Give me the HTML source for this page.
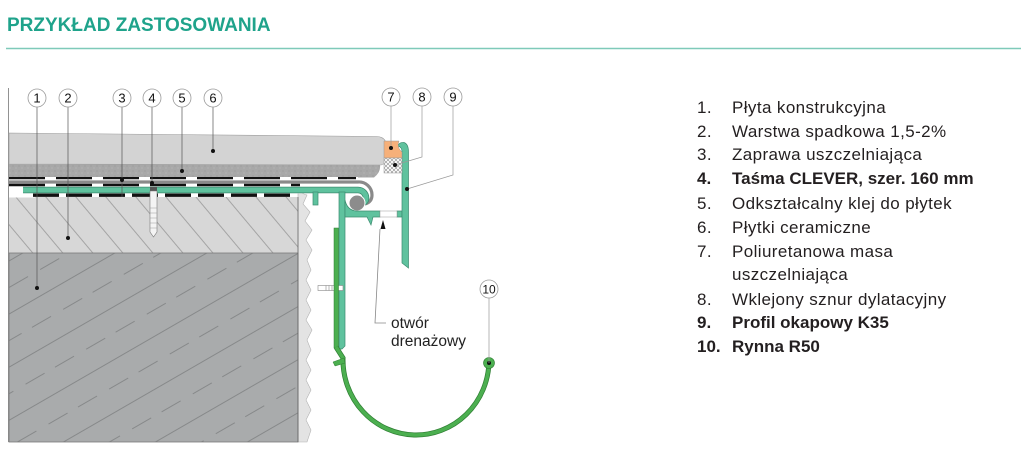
<!DOCTYPE html>
<html><head><meta charset="utf-8">
<style>
html,body{margin:0;padding:0;background:#fff;}
body{width:1021px;height:453px;overflow:hidden;position:relative;}
svg{position:absolute;left:0;top:0;}
</style></head><body>
<svg width="1021" height="453" viewBox="0 0 1021 453" xmlns="http://www.w3.org/2000/svg" font-family="Liberation Sans, Arial, sans-serif">
<defs>
  <pattern id="h2" patternUnits="userSpaceOnUse" width="23" height="10" patternTransform="rotate(-40)">
    <line x1="0.5" y1="0" x2="0.5" y2="10" stroke="#8e8e8e" stroke-width="0.7"/>
  </pattern>
  <pattern id="h1" patternUnits="userSpaceOnUse" width="70" height="46" patternTransform="rotate(-30)">
    <rect width="70" height="46" fill="#a9abac"/>
    <line x1="0" y1="0.5" x2="70" y2="0.5" stroke="#7b7d7e" stroke-width="0.8"/>
    <line x1="4" y1="23.5" x2="26" y2="23.5" stroke="#7b7d7e" stroke-width="0.8"/>
    <line x1="40" y1="23.5" x2="62" y2="23.5" stroke="#7b7d7e" stroke-width="0.8"/>
  </pattern>
  <pattern id="xh" patternUnits="userSpaceOnUse" width="4" height="4">
    <rect width="4" height="4" fill="#fff"/>
    <path d="M0,0 L4,4 M4,0 L0,4" stroke="#8a8a8a" stroke-width="0.6"/>
  </pattern>
  <pattern id="sp" patternUnits="userSpaceOnUse" width="6" height="5">
    <rect width="6" height="5" fill="#a8a8a8"/>
    <circle cx="1" cy="1" r="0.5" fill="#8d8d8d"/>
    <circle cx="4" cy="3" r="0.5" fill="#c2c2c2"/>
  </pattern>
</defs>

<!-- Title -->
<text x="7" y="31" font-size="19" font-weight="bold" fill="#1fa38b">PRZYKŁAD ZASTOSOWANIA</text>
<line x1="6" y1="48.5" x2="1021" y2="48.5" stroke="#7fcab9" stroke-width="1.5"/>

<!-- left border line -->
<line x1="8.5" y1="88" x2="8.5" y2="442" stroke="#777" stroke-width="0.8"/>

<!-- wall wavy strip -->
<path d="M298,192 L307,195 L303,204 L310,212 L305,221 L312,230 L306,240 L312,250 L307,260 L311,270 L306,280 L311,290 L306,300 L311,310 L306,320 L312,330 L307,340 L311,350 L306,360 L311,370 L306,380 L311,390 L306,400 L311,410 L306,420 L311,430 L307,442 L298,442 Z" fill="#e3e3e3" stroke="#b3b3b3" stroke-width="0.6"/>

<!-- substrate 2 (hatched) -->
<rect x="9" y="197" width="289" height="56" fill="#d7d7d7"/>
<rect x="9" y="197" width="289" height="56" fill="url(#h2)"/>
<!-- substrate 1 -->
<rect x="9" y="253" width="289" height="189" fill="url(#h1)" stroke="#7a7a7a" stroke-width="0.8"/>
<line x1="298" y1="197" x2="298" y2="442" stroke="#666" stroke-width="0.8"/>

<!-- tile -->
<path d="M9,133 L377,136.5 Q386,137 386,145 L386,160 Q385,165 380,165 L9,164 Z" fill="#d3d3d3" stroke="#9c9c9c" stroke-width="0.6"/>
<!-- adhesive -->
<path d="M9,164 L380,165 Q381,172 374,177.5 L9,177.5 Z" fill="url(#sp)"/>

<!-- black dashed rows -->
<rect x="9" y="177" width="349" height="10" fill="#fff"/>
<line x1="9" y1="178.5" x2="356" y2="178.5" stroke="#111" stroke-width="3" stroke-dasharray="36 11"/>
<!-- grey membrane with curl -->
<path d="M9,182 H358 A13,13 0 0 1 372,195 Q372,202 365,204" fill="none" stroke="#fff" stroke-width="5.5"/>
<path d="M9,182 H358 A13,13 0 0 1 372,195 Q372,202 365,204" fill="none" stroke="#8a8a8a" stroke-width="3.2"/>
<line x1="9" y1="185" x2="300" y2="185" stroke="#111" stroke-width="2.6" stroke-dasharray="36 11"/>

<!-- white around teal start -->
<rect x="9" y="186.5" width="26" height="11" fill="#fff"/>
<rect x="35" y="186.5" width="320" height="7" fill="#fff"/>
<!-- bottom black dashed row -->
<line x1="33" y1="195.2" x2="297" y2="195.2" stroke="#111" stroke-width="3.4" stroke-dasharray="26 7"/>

<!-- teal top strip with curl -->
<path d="M23,190 H358 A8,8 0 0 1 366,198 Q366,202 362,203" fill="none" stroke="#3c8c70" stroke-width="6.6"/>
<path d="M23,190 H358 A8,8 0 0 1 366,198 Q366,202 362,203" fill="none" stroke="#5fc29e" stroke-width="5"/>

<!-- grey gasket -->
<circle cx="357" cy="203" r="8" fill="#8c8c8c" stroke="#fff" stroke-width="1"/>

<!-- dowel 4 -->
<rect x="150" y="187" width="7" height="4" fill="#555"/>
<path d="M150,191 H157 V232 L153.5,237 L150,232 Z" fill="#f4f4f4" stroke="#7a7a7a" stroke-width="0.6"/>
<path d="M150,208 H157 M150,213 H157 M150,218 H157 M150,223 H157 M150,228 H157" stroke="#999" stroke-width="0.6"/>

<!-- teal profile lower parts -->
<g fill="#5fc29e" stroke="#3c8c70" stroke-width="0.7">
  <rect x="313" y="192" width="5" height="13"/>
  <path d="M339,192 H345 V346 L342,349 H339 Z"/>
  <path d="M345,200 Q347,210 356,211 H380 V217 H373 L371,225 L367,217 H345 Z"/>
  <path d="M397,211 H402 V217 H397 Z"/>
  <path d="M402,263 V152 Q402,147 398,146 Q399,142 404,142.5 Q408.5,144 408.5,152 V268 Z"/>
</g>
<rect x="380" y="211" width="17" height="6" fill="#fff" stroke="#999" stroke-width="0.5"/>

<!-- sealant 7 and cord 8 -->
<path d="M384,141 H399 Q397,146 400,150 L402,152 V158 H384 Z" fill="#f6b07a" stroke="#999" stroke-width="0.5"/>
<rect x="384" y="158" width="18" height="15" fill="url(#xh)" stroke="#999" stroke-width="0.5"/>

<!-- screw -->
<rect x="318" y="285.5" width="25" height="5" fill="#fff" stroke="#888" stroke-width="0.6"/>
<path d="M326,285.5 V290.5 M329,285.5 V290.5 M332,285.5 V290.5 M335,285.5 V290.5 M338,285.5 V290.5" stroke="#888" stroke-width="0.6"/>

<!-- gutter -->
<rect x="334" y="228" width="4.5" height="120" fill="#4caf50" stroke="#2e7d32" stroke-width="0.5"/>
<path d="M336,347 L343,358 A73,75 0 0 0 489,362" fill="none" stroke="#2e7d32" stroke-width="5"/>
<path d="M336,347 L343,358 A73,75 0 0 0 489,362" fill="none" stroke="#4caf50" stroke-width="3.6"/>
<path d="M344,358 L333,362 L335,366 L345,363 Z" fill="#4caf50" stroke="#2e7d32" stroke-width="0.5"/>
<circle cx="489" cy="363" r="5.5" fill="#4caf50" stroke="#2e7d32" stroke-width="0.6"/>
<circle cx="489" cy="363" r="2" fill="#111"/>

<!-- drain label leader -->
<path d="M380,229 L375,323 H386" fill="none" stroke="#888" stroke-width="0.8"/>
<path d="M383,220 L385.5,229 L380.5,229 Z" fill="#111"/>
<text x="391" y="328" font-size="15.5" fill="#222">otwór</text>
<text x="391" y="346" font-size="15.5" fill="#222">drenażowy</text>

<!-- leader lines -->
<g stroke="#555" stroke-width="0.7" fill="none">
  <line x1="37" y1="107" x2="37" y2="288"/>
  <line x1="68" y1="107" x2="68" y2="238"/>
  <line x1="122" y1="107" x2="122" y2="197"/>
  <line x1="152" y1="107" x2="152" y2="183"/>
  <line x1="182" y1="107" x2="182" y2="171"/>
  <line x1="213" y1="107" x2="213" y2="151"/>
</g>
<g stroke="#999" stroke-width="0.7" fill="none">
  <line x1="391" y1="106" x2="391" y2="148"/>
  <path d="M422,106 V157 L395,165"/>
  <path d="M453,106 V175 L407,189"/>
  <line x1="489" y1="298" x2="489" y2="363"/>
</g>
<g fill="#111">
  <circle cx="37" cy="288" r="2"/>
  <circle cx="68" cy="238" r="2"/>
  <circle cx="122" cy="180" r="2"/>
  <circle cx="152" cy="183" r="2"/>
  <circle cx="182" cy="171" r="2"/>
  <circle cx="213" cy="151" r="2"/>
  <circle cx="391" cy="148" r="2"/>
  <circle cx="395" cy="165" r="2"/>
  <circle cx="407" cy="189" r="2"/>
</g>

<!-- numbered circles -->
<g fill="#fff" stroke="#9a9a9a" stroke-width="0.8">
  <circle cx="37" cy="98" r="9"/>
  <circle cx="68" cy="98" r="9"/>
  <circle cx="122" cy="98" r="9"/>
  <circle cx="152" cy="98" r="9"/>
  <circle cx="182" cy="98" r="9"/>
  <circle cx="213" cy="98" r="9"/>
  <circle cx="391" cy="97" r="9"/>
  <circle cx="422" cy="97" r="9"/>
  <circle cx="453" cy="97" r="9"/>
  <circle cx="489" cy="289" r="9"/>
</g>
<g font-size="13" fill="#111" text-anchor="middle">
  <text x="37" y="102.5">1</text>
  <text x="68" y="102.5">2</text>
  <text x="122" y="102.5">3</text>
  <text x="152" y="102.5">4</text>
  <text x="182" y="102.5">5</text>
  <text x="213" y="102.5">6</text>
  <text x="391" y="101.5">7</text>
  <text x="422" y="101.5">8</text>
  <text x="453" y="101.5">9</text>
  <text x="489" y="293.5" font-size="12">10</text>
</g>

<!-- legend list -->
<g font-size="17" fill="#231f20" letter-spacing="0.4">
  <text x="697" y="113">1.</text><text x="732" y="113">Płyta konstrukcyjna</text>
  <text x="697" y="137">2.</text><text x="732" y="137">Warstwa spadkowa 1,5-2%</text>
  <text x="697" y="160">3.</text><text x="732" y="160">Zaprawa uszczelniająca</text>
  <text x="697" y="184" font-weight="bold" letter-spacing="0">4.</text><text x="732" y="184" font-weight="bold" letter-spacing="0">Taśma CLEVER, szer. 160 mm</text>
  <text x="697" y="209">5.</text><text x="732" y="209">Odkształcalny klej do płytek</text>
  <text x="697" y="233">6.</text><text x="732" y="233">Płytki ceramiczne</text>
  <text x="697" y="257">7.</text><text x="732" y="257">Poliuretanowa masa</text>
  <text x="732" y="280">uszczelniająca</text>
  <text x="697" y="305">8.</text><text x="732" y="305">Wklejony sznur dylatacyjny</text>
  <text x="697" y="328" font-weight="bold" letter-spacing="0">9.</text><text x="732" y="328" font-weight="bold" letter-spacing="0">Profil okapowy K35</text>
  <text x="697" y="352" font-weight="bold" letter-spacing="0">10.</text><text x="732" y="352" font-weight="bold" letter-spacing="0">Rynna R50</text>
</g>
</svg>
</body></html>
